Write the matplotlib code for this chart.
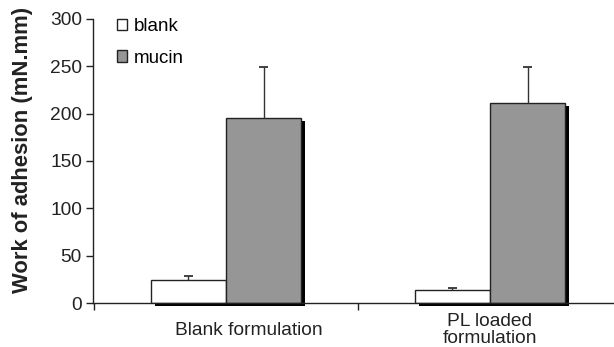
import matplotlib.pyplot as plt
import matplotlib.transforms as mtransforms
from matplotlib.patches import Patch
import numpy as np

plt.rcParams['font.family'] = ['Liberation Sans', 'DejaVu Sans']

# data
groups = ['Blank formulation', 'PL loaded\nformulation']
series = ['blank', 'mucin']
blank_vals = [24, 14]
blank_err = [4.5, 1.5]
mucin_vals = [195, 211]
mucin_err = [54, 38]

colors = {'blank': 'white', 'mucin': '#969696'}

fig = plt.figure(figsize=(6.14, 3.47), dpi=100)
ax = fig.add_axes([93 / 614, 1 - 303 / 347, 1 - 93 / 614, (303 - 19) / 347])

x = np.arange(len(groups))
w = 0.285
cap = 0.017

# shadow offset (right, down)
shadow = ax.transData + mtransforms.ScaledTranslation(4 / 100, -3 / 100, fig.dpi_scale_trans)

for vals, err, off, name in [(blank_vals, blank_err, -w / 2, 'blank'),
                             (mucin_vals, mucin_err, w / 2, 'mucin')]:
    xs = x + off
    tops = np.array(vals) + np.array(err)
    ax.bar(xs, vals, w, color='black', transform=shadow, zorder=1, clip_on=False)
    ax.bar(xs, vals, w, color=colors[name], edgecolor='#222222', linewidth=1.0, zorder=2)
    # upper error bars only
    ax.vlines(xs, vals, tops, color='#333333', linewidth=1.0, zorder=3)
    ax.hlines(tops, xs - cap, xs + cap, color='#333333', linewidth=1.3, zorder=3)

ax.set_xlim(-0.504, 1.47)
ax.set_ylim(0, 300)
ax.set_yticks([0, 50, 100, 150, 200, 250, 300])
ax.tick_params(axis='y', direction='out', length=5, width=1, labelsize=13.8, pad=3,
               colors='#222222')

ax.set_xticks(x)
ax.set_xticklabels(groups, fontsize=13.8, va='center', color='#222222', linespacing=1.0)
ax.tick_params(axis='x', which='major', length=0, pad=19.5)
ax.set_xticks([-0.5, 0.5], minor=True)
ax.tick_params(axis='x', which='minor', direction='out', length=5, width=1, color='#222222')

# first category label sits a bit right of its group in the original
lbl = ax.get_xticklabels()[0]
lbl.set_transform(lbl.get_transform() + mtransforms.ScaledTranslation(23 / 100, 0, fig.dpi_scale_trans))

for s in ['top', 'right']:
    ax.spines[s].set_visible(False)
for s in ['left', 'bottom']:
    ax.spines[s].set_color('#222222')
    ax.spines[s].set_linewidth(1.0)

ax.set_ylabel('Work of adhesion (mN.mm)', fontsize=15.8, fontweight='bold', color='#222222')
ax.yaxis.set_label_coords((33 - 93) / 521, (303 - 150) / 284)

handles = [Patch(facecolor=colors[s], edgecolor='#222222', label=s) for s in series]
ax.legend(handles=handles, loc='upper left', bbox_to_anchor=(117 / 614, 1 - 18 / 347),
          bbox_transform=fig.transFigure, frameon=False, fontsize=13.5, borderpad=0,
          borderaxespad=0, handlelength=0.53, handleheight=0.53, handletextpad=0.37,
          labelspacing=0.78)

fig.savefig('out.png', dpi=100)
